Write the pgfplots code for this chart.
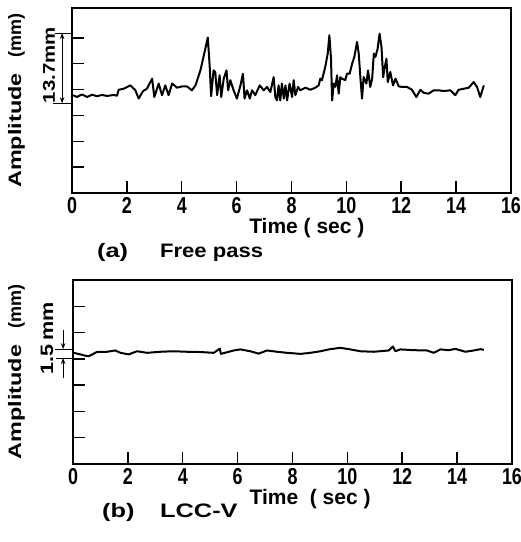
\documentclass[border=0pt]{standalone}
\usepackage{fontspec}
\setmainfont{Liberation Sans}
\usepackage{graphicx}
\usepackage{pgfplots}
\pgfplotsset{compat=1.18}
\usepackage{pgfplotstable}
\usetikzlibrary{arrows.meta}

% (a) free pass: time (sec), amplitude (grid units)
\pgfplotstableread{
x y
0.04 3.78
0.18 3.71
0.36 3.81
0.55 3.71
0.73 3.80
0.91 3.74
1.09 3.79
1.28 3.75
1.52 3.79
1.64 3.76
1.70 3.99
1.88 4.03
2.13 4.16
2.31 3.97
2.43 3.65
2.59 3.94
2.73 4.03
2.92 4.42
3.00 3.71
3.16 4.23
3.28 3.78
3.40 4.16
3.52 3.78
3.65 4.23
3.83 4.07
4.01 4.12
4.19 4.12
4.37 3.97
4.50 4.16
4.68 4.74
4.82 5.39
4.95 6.01
5.02 4.87
5.07 3.74
5.16 4.74
5.22 4.68
5.29 3.78
5.38 4.55
5.44 3.71
5.53 4.42
5.63 4.74
5.69 3.97
5.77 4.36
5.89 3.97
6.01 3.65
6.14 4.16
6.23 4.61
6.29 3.65
6.38 3.97
6.48 3.65
6.56 3.97
6.68 3.78
6.84 4.16
6.99 3.97
7.11 4.10
7.23 3.90
7.35 4.48
7.41 3.71
7.47 3.58
7.53 4.16
7.59 3.58
7.65 4.23
7.72 3.65
7.78 4.16
7.84 3.58
7.93 4.23
8.02 3.71
8.08 4.36
8.14 3.78
8.24 4.10
8.32 3.97
8.51 4.07
8.69 3.99
8.87 4.07
8.99 4.16
9.05 4.42
9.11 4.36
9.23 4.87
9.32 5.39
9.38 6.10
9.44 5.19
9.48 3.58
9.54 4.23
9.60 4.10
9.66 4.55
9.72 3.84
9.78 4.48
9.84 4.42
9.96 4.36
10.02 4.61
10.12 4.61
10.21 5.00
10.29 5.26
10.39 5.84
10.45 5.39
10.51 4.48
10.57 3.65
10.63 4.48
10.73 4.23
10.79 4.74
10.87 4.10
10.94 4.42
11.00 5.39
11.06 5.26
11.14 5.58
11.21 6.16
11.28 5.64
11.34 4.48
11.40 4.87
11.46 5.19
11.51 4.29
11.60 4.68
11.70 4.16
11.79 4.42
11.91 4.12
12.03 4.10
12.21 4.10
12.39 3.99
12.55 3.71
12.70 3.99
12.82 3.87
13.00 3.84
13.18 3.97
13.37 3.97
13.55 3.94
13.79 3.97
13.97 3.78
14.09 3.99
14.28 4.03
14.46 4.07
14.64 4.29
14.76 4.10
14.88 3.71
15.01 4.16
}\freepass

% (b) LCC-V
\pgfplotstableread{
x y
0.02 4.23
0.27 4.17
0.45 4.12
0.57 4.10
0.87 4.26
1.24 4.27
1.54 4.32
1.73 4.23
2.03 4.17
2.33 4.29
2.70 4.23
3.18 4.27
3.67 4.29
4.16 4.27
4.64 4.26
5.13 4.23
5.35 4.39
5.39 4.19
5.86 4.32
6.10 4.36
6.46 4.29
6.77 4.20
7.07 4.32
7.44 4.27
7.80 4.23
8.29 4.19
8.65 4.23
9.02 4.29
9.32 4.36
9.74 4.42
10.11 4.36
10.47 4.29
10.96 4.27
11.51 4.32
11.66 4.47
11.75 4.29
11.93 4.36
12.42 4.33
12.90 4.32
13.15 4.23
13.39 4.36
13.69 4.33
13.94 4.38
14.30 4.27
14.61 4.32
14.85 4.37
14.97 4.34
}\lccv

\pgfplotsset{
  trace/.style={
    scale only axis, width=439pt,
    xmin=0, xmax=16, ymin=0,
    axis line style={line width=1.8pt},
    tick align=inside, xtick pos=bottom, ytick pos=left,
    major tick length=12pt,
    every tick/.style={line width=1.5pt, black},
    xtick={0,2,...,16}, ytick={1,...,6}, yticklabels={},
    xticklabel={\scalebox{0.78}[1]{\pgfmathparse{int(\tick)}\pgfmathresult}},
    xticklabel style={font=\fontsize{23}{23}\selectfont\bfseries, inner sep=0pt, yshift=-4pt},
    xlabel style={font=\fontsize{21}{21}\selectfont\bfseries, anchor=north, inner sep=0pt, yshift=-5pt},
    ylabel style={font=\fontsize{18}{18}\selectfont\bfseries, anchor=south, inner sep=0pt},
    ylabel={\scalebox{1.3}[1]{Amplitude}\hspace{16pt}(mm)},
    clip=false,
  },
}

\begin{document}
\begin{tikzpicture}
\path[use as bounding box] (0,0) rectangle (521pt,-542pt);

\begin{axis}[trace, at={(72pt,-193pt)}, anchor=south west, height=185pt, ymax=7.15,
    xlabel={Time ( sec )},
    xlabel style={at={(ticklabel cs:0.535)}},
    ylabel style={at={(axis description cs:-0.107,0.5)}}]
\addplot[black, line width=2pt, line join=round] table[x=x, y=y] {\freepass};
\draw[line width=1.1pt] (axis cs:-0.62,6.18) -- (axis cs:0,6.18);
\draw[line width=1.1pt] (axis cs:-0.69,3.47) -- (axis cs:0,3.47);
\draw[line width=1.2pt, {Stealth[length=6pt,width=4.5pt]}-{Stealth[length=6pt,width=4.5pt]}]
  (axis cs:-0.36,6.18) -- (axis cs:-0.36,3.47);
\node[rotate=90, font=\fontsize{17}{17}\selectfont\bfseries, inner sep=0pt]
  at (axis cs:-0.84,4.94) {\scalebox{1.2}[1]{13.7mm}};
\end{axis}
\node[anchor=base west, inner sep=0pt, font=\fontsize{19.5}{19.5}\selectfont\bfseries]
  at (97pt,-257pt) {\scalebox{1.3}[1]{(a)}};
\node[anchor=base west, inner sep=0pt, font=\fontsize{19.5}{19.5}\selectfont\bfseries]
  at (160pt,-257pt) {\scalebox{1.13}[1]{Free pass}};

\begin{axis}[trace, at={(73pt,-464pt)}, anchor=south west, height=184pt, ymax=7,
    xlabel={Time \ ( sec )},
    xlabel style={at={(ticklabel cs:0.54)}},
    ylabel style={at={(axis description cs:-0.109,0.5)}}]
\addplot[black, line width=2pt, line join=round] table[x=x, y=y] {\lccv};
\draw[line width=1.1pt] (axis cs:-0.66,4.37) -- (axis cs:0,4.37);
\draw[line width=1.1pt] (axis cs:-0.62,4.03) -- (axis cs:0,4.03);
\draw[line width=1.2pt, -{Stealth[length=6pt,width=4.5pt]}]
  (axis cs:-0.36,5.10) -- (axis cs:-0.36,4.37);
\draw[line width=1.2pt, -{Stealth[length=6pt,width=4.5pt]}]
  (axis cs:-0.36,3.27) -- (axis cs:-0.36,4.03);
\node[rotate=90, font=\fontsize{18}{18}\selectfont\bfseries, inner sep=0pt]
  at (axis cs:-0.95,4.79) {\scalebox{1.2}[1]{1.5\,mm}};
\end{axis}
\node[anchor=base west, inner sep=0pt, font=\fontsize{19.5}{19.5}\selectfont\bfseries]
  at (102pt,-517pt) {\scalebox{1.3}[1]{(b)}};
\node[anchor=base west, inner sep=0pt, font=\fontsize{19.5}{19.5}\selectfont\bfseries]
  at (160pt,-517pt) {\scalebox{1.3}[1]{LCC-V}};
\end{tikzpicture}
\end{document}
